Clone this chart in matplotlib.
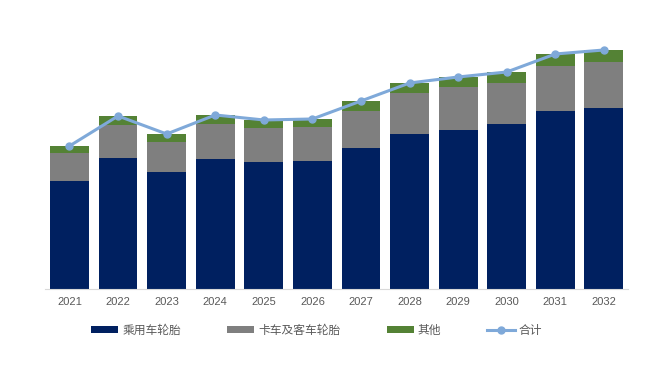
import numpy as np
import matplotlib
matplotlib.use("Agg")
import matplotlib.pyplot as plt

plt.rcParams['font.family'] = ['Noto Sans CJK SC', 'DejaVu Sans']

years = ['2021', '2022', '2023', '2024', '2025', '2026',
         '2027', '2028', '2029', '2030', '2031', '2032']
passenger = [108, 131, 117, 130, 127, 128, 141, 155, 159, 165, 178, 181]
truck_bus = [28, 33, 30, 35, 34, 34, 37, 41, 43, 41, 45, 46]
other = [7, 9, 8, 9, 8, 8, 10, 10, 10, 11, 12, 12]
series_names = ['乘用车轮胎', '卡车及客车轮胎', '其他', '合计']

passenger = np.array(passenger)
truck_bus = np.array(truck_bus)
other = np.array(other)
total = passenger + truck_bus + other

fig = plt.figure(figsize=(6.5, 3.68), dpi=100)
ax = fig.add_axes([0.0695, 0.2147, 0.897, 0.731])

x = np.arange(len(years))
w = 0.8
b1 = ax.bar(x, passenger, w, color='#002060', label=series_names[0])
b2 = ax.bar(x, truck_bus, w, bottom=passenger, color='#7f7f7f', label=series_names[1])
b3 = ax.bar(x, other, w, bottom=passenger + truck_bus, color='#548235', label=series_names[2])
l1, = ax.plot(x, total, color='#7fa9d9', lw=2.2, marker='o', ms=5, label=series_names[3])

ax.set_xlim(-0.5, len(years) - 0.5)
ax.set_ylim(0, 269)
ax.set_xticks(x)
ax.set_xticklabels(years, fontsize=8, color='#595959', family=['Liberation Sans', 'DejaVu Sans'])
ax.tick_params(axis='x', length=0, pad=6)
ax.set_yticks([])
for s in ['top', 'right', 'left']:
    ax.spines[s].set_visible(False)
ax.spines['bottom'].set_color('#d9d9d9')

fig.legend([b1, b2, b3, l1], series_names, loc='center', bbox_to_anchor=(0.487, 0.103),
           ncol=4, frameon=False, fontsize=8.5, labelcolor='#595959',
           handlelength=2.3, handleheight=0.6, columnspacing=3.9, handletextpad=0.35)

fig.savefig('out.png', dpi=100)
